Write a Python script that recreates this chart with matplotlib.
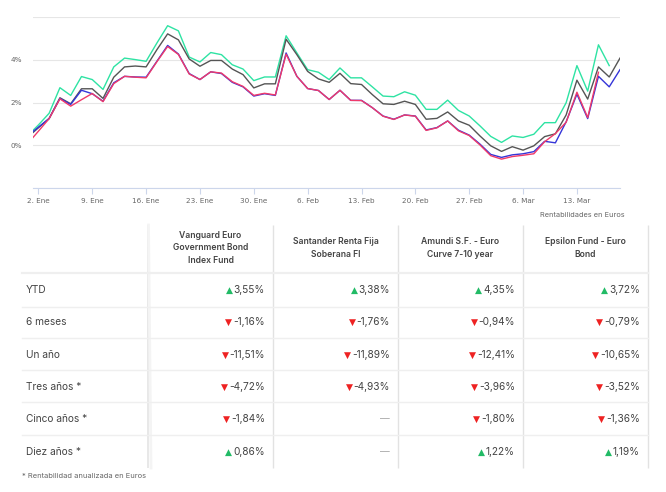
import numpy as np
import pandas as pd
import matplotlib
matplotlib.use("Agg")
import matplotlib.pyplot as plt

# Fechas hábiles: 30 dic 2022 (recortado a la izquierda) hasta 17 mar 2023
fechas = pd.bdate_range("2022-12-30", "2023-03-17")
meses = {1: "Ene", 2: "Feb", 3: "Mar", 12: "Dic"}

# Rentabilidad acumulada (%) de cada fondo
epsilon = [0.45, 0.95, 1.50, 2.69, 2.33, 3.21, 3.07, 2.61, 3.66, 4.07, 4.00, 3.92, 4.77, 5.58,
           5.34, 4.12, 3.89, 4.33, 4.23, 3.76, 3.56, 3.02, 3.19, 3.19, 5.11, 4.31, 3.53, 3.41,
           3.07, 3.61, 3.15, 3.15, 2.73, 2.30, 2.27, 2.50, 2.34, 1.68, 1.68, 2.11, 1.63, 1.37,
           0.91, 0.42, 0.14, 0.44, 0.37, 0.52, 1.06, 1.06, 1.99, 3.72, 2.53, 4.69, 3.72, np.nan]
amundi = [0.38, 0.82, 1.25, 2.22, 1.94, 2.64, 2.64, 2.19, 3.18, 3.66, 3.70, 3.66, 4.46, 5.20,
          4.92, 4.03, 3.69, 3.96, 3.96, 3.56, 3.30, 2.68, 2.87, 2.87, 4.95, 4.23, 3.45, 3.10,
          2.94, 3.36, 2.88, 2.84, 2.37, 1.94, 1.91, 2.06, 1.91, 1.22, 1.26, 1.56, 1.14, 0.94,
          0.44, -0.02, -0.28, -0.06, -0.22, -0.02, 0.41, 0.54, 1.42, 3.04, 2.16, 3.66, 3.19, 4.07]
vanguard = [0.44, 0.85, 1.26, 2.19, 1.91, 2.57, 2.41, 2.06, 2.92, 3.22, 3.19, 3.18, 3.92, 4.66,
            4.26, 3.35, 3.07, 3.43, 3.35, 2.94, 2.73, 2.30, 2.41, 2.33, 4.31, 3.22, 2.65, 2.56,
            2.14, 2.57, 2.10, 2.10, 1.76, 1.37, 1.22, 1.42, 1.37, 0.72, 0.83, 1.14, 0.71, 0.48,
            0.06, -0.42, -0.56, -0.44, -0.39, -0.29, 0.19, 0.12, 1.10, 2.39, 1.25, 3.22, 2.73, 3.53]
santander = [0.08, 0.66, 1.25, 2.17, 1.83, 2.13, 2.42, 2.04, 2.88, 3.22, 3.18, 3.15, 3.90, 4.61,
             4.24, 3.33, 3.07, 3.43, 3.37, 2.97, 2.75, 2.33, 2.43, 2.35, 4.25, 3.22, 2.65, 2.56,
             2.14, 2.57, 2.10, 2.09, 1.76, 1.36, 1.21, 1.42, 1.36, 0.70, 0.82, 1.14, 0.68, 0.46,
             0.02, -0.48, -0.64, -0.52, -0.46, -0.39, 0.17, 0.55, 1.08, 2.48, 1.30, 3.41, np.nan, np.nan]

# Tabla
fondos = ["Vanguard Euro\nGovernment Bond\nIndex Fund", "Santander Renta Fija\nSoberana FI",
          "Amundi S.F. - Euro\nCurve 7-10 year", "Epsilon Fund - Euro\nBond"]
periodos = ["YTD", "6 meses", "Un año", "Tres años *", "Cinco años *", "Diez años *"]
valores = [
    [3.55, 3.38, 4.35, 3.72],
    [-1.16, -1.76, -0.94, -0.79],
    [-11.51, -11.89, -12.41, -10.65],
    [-4.72, -4.93, -3.96, -3.52],
    [-1.84, None, -1.80, -1.36],
    [0.86, None, 1.22, 1.19],
]

fig = plt.figure(figsize=(6.66, 4.92), dpi=100)
W, H = 666, 492

# ---- gráfico de líneas ----
ax = fig.add_axes([33 / W, 1 - 188.3 / H, (620 - 33) / W, (188.3 - 16.7) / H])
x = np.arange(len(fechas)) - 1
ax.plot(x, epsilon, color="#2ee3a3", lw=1.0)
ax.plot(x, amundi, color="#555555", lw=1.0)
ax.plot(x, vanguard, color="#3535d8", lw=1.0)
ax.plot(x, santander, color="#f03a6a", lw=1.0)
ax.set_xlim(-0.5, 54)
ax.set_ylim(-2, 6)
ax.set_yticks([-2, 0, 2, 4, 6])
ax.set_yticklabels(["", "0%", "2%", "4%", ""])
ax.yaxis.grid(True, color="#e6e6e6", lw=0.8)
ax.set_axisbelow(True)
lunes = [i for i, d in enumerate(fechas) if d.weekday() == 0]
ax.set_xticks(x[lunes])
ax.set_xticklabels([f"{fechas[i].day}. {meses[fechas[i].month]}" for i in lunes])
for s in ["top", "right", "left"]:
    ax.spines[s].set_visible(False)
ax.spines["bottom"].set_color("#ccd6eb")
ax.tick_params(axis="y", length=0, labelsize=5.2, labelcolor="#666666", pad=8)
ax.tick_params(axis="x", length=4, color="#ccd6eb", labelsize=5.2, labelcolor="#666666", pad=3)

# ---- tabla ----
t = fig.add_axes([0, 0, 1, 1])
t.set_xlim(0, W)
t.set_ylim(H, 0)
t.axis("off")
t.patch.set_visible(False)

fuente = "Inter"
t.text(625, 215, "Rentabilidades en Euros", ha="right", va="center", fontsize=5.3,
       color="#666666", family=fuente)

cols = [148, 273, 398, 523, 648]
filas_y = [273, 307, 338, 370, 402, 435, 468]
centros_y = [290, 322, 355, 387, 419, 452]

for i, xc in enumerate(cols):
    color = "#e2e2e2" if i > 0 else "#e8e8e8"
    t.plot([xc, xc], [225, 468], color=color, lw=1.4 if i == 0 else 1.0, solid_capstyle="butt")
t.plot([148.5, 151], [225, 468], color="#f4f4f4", lw=2)
for j, yl in enumerate(filas_y[:-1]):
    t.plot([22, 648], [yl, yl], color="#efefef", lw=1.6 if j == 0 else 1.0)

for k, f in enumerate(fondos):
    xc = (cols[k] + cols[k + 1]) / 2
    t.text(xc, 248, f, ha="center", va="center", fontsize=6.2, fontweight="semibold",
           color="#444444", family=fuente, linespacing=1.45)

for r, p in enumerate(periodos):
    t.text(26, centros_y[r], p, ha="left", va="center", fontsize=7.3, color="#444444",
           family=fuente)

fig.canvas.draw()
rend = fig.canvas.get_renderer()
for r, fila in enumerate(valores):
    for k, v in enumerate(fila):
        xr = cols[k + 1] - 8
        y = centros_y[r]
        if v is None:
            t.text(xr, y, "—", ha="right", va="center", fontsize=7, color="#aaaaaa", family=fuente)
            continue
        txt = t.text(xr, y, f"{v:.2f}%".replace(".", ","), ha="right", va="center",
                     fontsize=7.3, color="#444444", family=fuente)
        bb = txt.get_window_extent(renderer=rend)
        x0 = bb.x0  # pixels, same as data x
        if v >= 0:
            t.text(x0 - 1, y, "▲", ha="right", va="center", fontsize=6.6, color="#22bb66",
                   family="DejaVu Sans")
        else:
            t.text(x0 - 1, y + 0.5, "▼", ha="right", va="center", fontsize=6.6, color="#ee2222",
                   family="DejaVu Sans")

t.text(22, 476, "* Rentabilidad anualizada en Euros", ha="left", va="center", fontsize=5.4,
       color="#666666", family=fuente)

fig.savefig("out.png", dpi=100)
